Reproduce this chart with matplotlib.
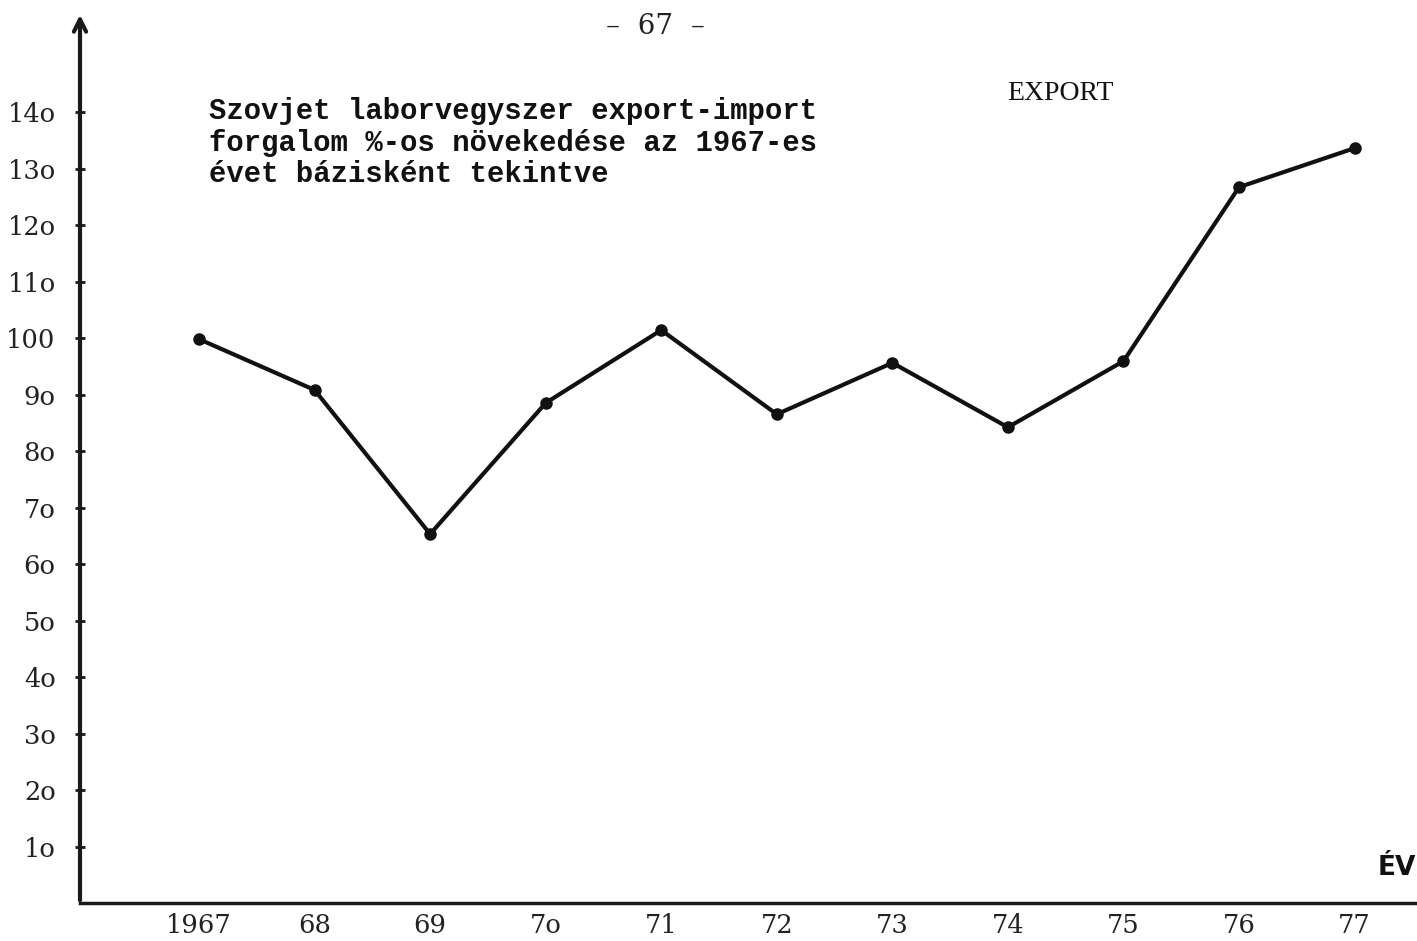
import matplotlib

matplotlib.use("Agg")
import matplotlib.pyplot as plt

# Export growth, 1967 = 100
years = [1967, 1968, 1969, 1970, 1971, 1972, 1973, 1974, 1975, 1976, 1977]
export_pct = [99.8, 90.8, 65.3, 88.5, 101.4, 86.5, 95.6, 84.2, 95.9, 126.7, 133.6]

x_labels = ["1967", "68", "69", "7o", "71", "72", "73", "74", "75", "76", "77"]
y_ticks = [10, 20, 30, 40, 50, 60, 70, 80, 90, 100, 110, 120, 130, 140]
y_labels = ["1o", "2o", "3o", "4o", "5o", "6o", "7o", "8o", "9o", "100",
            "11o", "12o", "13o", "14o"]

W, H, DPI = 1417, 941, 100
fig = plt.figure(figsize=(W / DPI, H / DPI), dpi=DPI, facecolor="white")

# axes box in pixels: left edge at x=80, x-axis at y=903, top arrow at y=12
ax = fig.add_axes([80 / W, 38 / H, (W - 80) / W, (903 - 12) / H])
ax.set_facecolor("white")
ax.set_xlim(1965.97, 1977.54)
ax.set_ylim(0, 157.7)

for side in ("top", "right", "left"):
    ax.spines[side].set_visible(False)
ax.spines["bottom"].set_linewidth(2.5)
ax.spines["bottom"].set_color("#1a1a1a")

# y-axis with open arrow head
ax.annotate("", xy=(0, 1.0), xytext=(0, 0), xycoords="axes fraction",
            arrowprops=dict(arrowstyle="->", lw=3, color="#1a1a1a",
                            mutation_scale=22))

ax.plot(years, export_pct, color="#111111", lw=3, marker="o",
        markersize=8, zorder=3)

tick_font = dict(family="DejaVu Serif", size=18.5, color="#222222")
ax.set_yticks(y_ticks)
ax.set_yticklabels(y_labels, **tick_font)
ax.tick_params(axis="y", direction="inout", length=7, width=2,
               color="#1a1a1a", pad=14)
ax.set_xticks(years)
ax.set_xticklabels(x_labels, **tick_font)
ax.tick_params(axis="x", length=0, pad=7)

# texts
fig.text(655 / W, 1 - 27 / H, "–  67  –", ha="center", va="center",
         family="DejaVu Serif", size=20, color="#222222")
fig.text(209 / W, 1 - 97 / H,
         "Szovjet laborvegyszer export-import\n"
         "forgalom %-os növekedése az 1967-es\n"
         "évet bázisként tekintve",
         ha="left", va="top", family="Liberation Mono", weight="bold",
         size=20.8, linespacing=1.17, color="#111111")
fig.text(1060 / W, 1 - 93 / H, "EXPORT", ha="center", va="center",
         family="Liberation Serif", size=20, color="#111111")
fig.text(1378 / W, 1 - 868 / H, "ÉV", ha="left", va="center",
         family="DejaVu Sans", weight="bold", size=19, color="#111111")

fig.savefig("out.png", dpi=DPI, facecolor="white")
